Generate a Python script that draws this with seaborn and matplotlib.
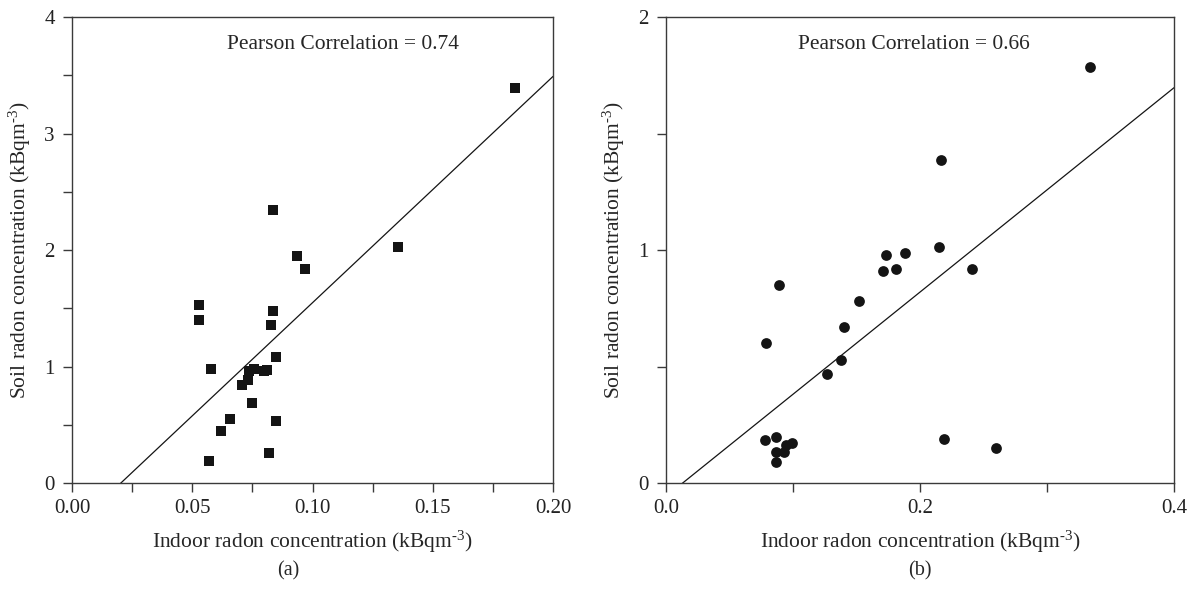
import matplotlib
matplotlib.use("Agg")
import matplotlib.pyplot as plt
import seaborn as sns
import pandas as pd
from matplotlib.ticker import MultipleLocator

# ------------------------------------------
# data
# ------------------------------------------
indoor_a = [0.184, 0.1357, 0.0837, 0.0937, 0.0969, 0.053, 0.053, 0.0837, 0.0829,
            0.085, 0.0579, 0.0757, 0.0738, 0.0730, 0.0708, 0.0799, 0.081, 0.0749,
            0.0659, 0.062, 0.085, 0.0568, 0.0821]
soil_a = [3.39, 2.03, 2.34, 1.95, 1.84, 1.53, 1.40, 1.48, 1.36,
          1.08, 0.98, 0.98, 0.96, 0.88, 0.84, 0.96, 0.97, 0.69,
          0.55, 0.45, 0.53, 0.19, 0.26]

indoor_b = [0.3338, 0.2165, 0.2147, 0.173, 0.188, 0.1708, 0.181, 0.2406, 0.089,
            0.1516, 0.1398, 0.0788, 0.1377, 0.1266, 0.0776, 0.0869, 0.2186, 0.2596,
            0.099, 0.0944, 0.0926, 0.0866, 0.0866]
soil_b = [1.786, 1.387, 1.014, 0.979, 0.989, 0.911, 0.92, 0.92, 0.85,
          0.782, 0.671, 0.60, 0.53, 0.468, 0.184, 0.197, 0.19, 0.149,
          0.17, 0.162, 0.134, 0.132, 0.092]

pearson_labels = ["Pearson Correlation = 0.74", "Pearson Correlation = 0.66"]
panel_tags = ["(a)", "(b)"]

df_a = pd.DataFrame({"indoor": indoor_a, "soil": soil_a})
df_b = pd.DataFrame({"indoor": indoor_b, "soil": soil_b})

# ------------------------------------------
# style
# ------------------------------------------
sns.set_style("ticks")
plt.rcParams.update({
    "font.family": ["Liberation Serif", "DejaVu Serif"],
    "mathtext.fontset": "custom",
    "mathtext.rm": "Liberation Serif",
    "mathtext.it": "Liberation Serif",
    "font.size": 14,
    "axes.edgecolor": "#3a3a3a",
    "axes.linewidth": 1.0,
    "xtick.color": "#3a3a3a",
    "ytick.color": "#3a3a3a",
    "xtick.labelcolor": "#222222",
    "ytick.labelcolor": "#222222",
    "xtick.major.size": 6.5,
    "ytick.major.size": 6.5,
    "xtick.minor.size": 6.5,
    "ytick.minor.size": 6.5,
    "xtick.direction": "out",
    "ytick.direction": "out",
})

fig = plt.figure(figsize=(11.96, 5.93), dpi=100)
ax_a = fig.add_axes([0.0602, 0.1855, 0.4022, 0.7858])
ax_b = fig.add_axes([0.5569, 0.1855, 0.4247, 0.7858])

ylabel = "Soil radon concentration (kBqm$^{\\text{-}3}$)"
xlabel = "Indoor radon concentration (kBqm$^{\\text{-}3}$)"

# ------------------------------------------
# panel (a)
# ------------------------------------------
ax_a.set_xlim(0, 0.2)
ax_a.set_ylim(0, 4)
sns.regplot(data=df_a, x="indoor", y="soil", ax=ax_a, ci=None, truncate=False,
            marker="s", color="#141414",
            scatter_kws={"s": 50, "linewidths": 0, "alpha": 1},
            line_kws={"color": "#141414", "linewidth": 0.9})
ax_a.set_xlim(0, 0.2)
ax_a.set_ylim(0, 4)
ax_a.xaxis.set_major_locator(MultipleLocator(0.05))
ax_a.xaxis.set_minor_locator(MultipleLocator(0.025))
ax_a.yaxis.set_major_locator(MultipleLocator(1))
ax_a.yaxis.set_minor_locator(MultipleLocator(0.5))
ax_a.set_xticklabels([f"{v:.2f}" for v in ax_a.get_xticks()])
ax_a.text(0.1127, 3.76, pearson_labels[0], ha="center", va="center", fontsize=15.5)

# ------------------------------------------
# panel (b)
# ------------------------------------------
ax_b.set_xlim(0, 0.4)
ax_b.set_ylim(0, 2)
sns.regplot(data=df_b, x="indoor", y="soil", ax=ax_b, ci=None, truncate=False,
            marker="o", color="#141414",
            scatter_kws={"s": 60, "linewidths": 0, "alpha": 1},
            line_kws={"color": "#141414", "linewidth": 0.9})
ax_b.set_xlim(0, 0.4)
ax_b.set_ylim(0, 2)
ax_b.xaxis.set_major_locator(MultipleLocator(0.2))
ax_b.xaxis.set_minor_locator(MultipleLocator(0.1))
ax_b.yaxis.set_major_locator(MultipleLocator(1))
ax_b.yaxis.set_minor_locator(MultipleLocator(0.5))
ax_b.set_xticklabels([f"{v:.1f}" for v in ax_b.get_xticks()])
ax_b.text(0.195, 1.88, pearson_labels[1], ha="center", va="center", fontsize=15.5)

for ax in (ax_a, ax_b):
    ax.set_xlabel(xlabel, fontsize=15.5, labelpad=8)
    ax.set_ylabel(ylabel, fontsize=15.5, labelpad=8)
    ax.tick_params(axis="both", which="both", labelsize=15, width=1.0)
    ax.tick_params(axis="x", pad=5)
    ax.tick_params(axis="y", pad=6)
    for side in ("top", "right"):
        ax.spines[side].set_visible(True)

# panel tags below each plot
fig.text(0.2413, 0.037, panel_tags[0], ha="center", va="center", fontsize=14.5)
fig.text(0.7692, 0.037, panel_tags[1], ha="center", va="center", fontsize=14.5)

fig.savefig("out.png", dpi=100)
plt.close(fig)
